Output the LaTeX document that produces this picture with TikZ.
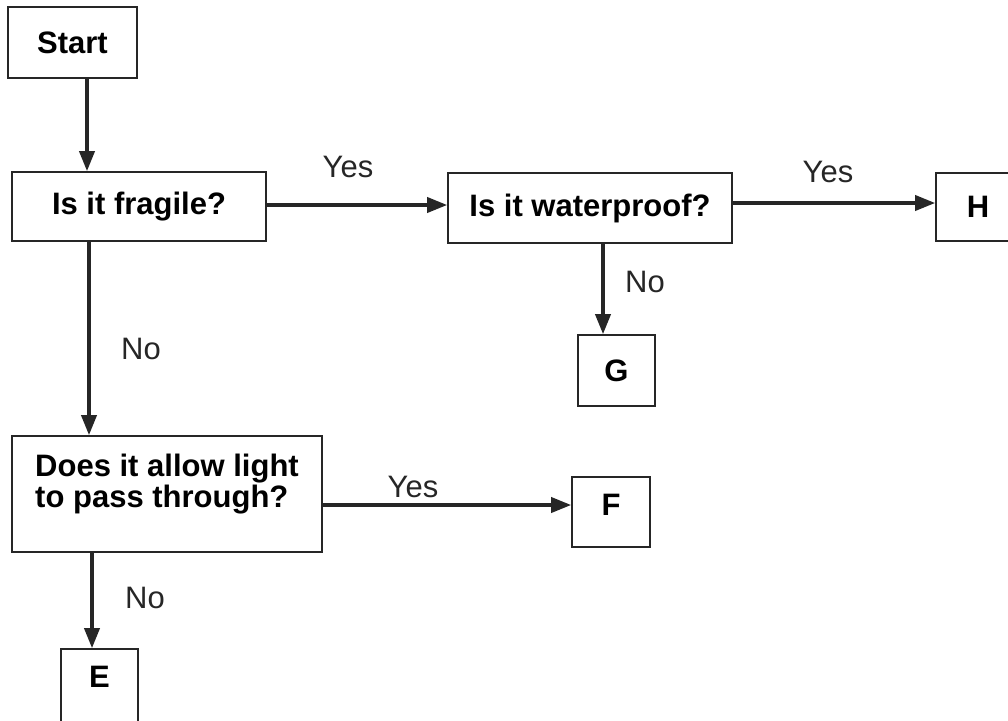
\documentclass[tikz,border=0pt]{standalone}
\usepackage{fontspec}
\setmainfont{Liberation Sans}
\usetikzlibrary{arrows.meta}
\begin{document}
\begin{tikzpicture}[x=1pt,y=-1pt,
  box/.style={draw=black!85, line width=1.6pt, inner sep=0pt, font=\fontsize{31}{31}\selectfont\bfseries},
  arr/.style={line width=3.6pt, draw=black!85, -{Triangle[length=20pt,width=15pt]}},
  lbl/.style={font=\fontsize{31}{31}\selectfont, text=black!85}]
\useasboundingbox (0,0) rectangle (1008,720);
\node[box, minimum width=129pt, minimum height=71pt] (start) at (72.5,42.5) {Start};
\node[box, minimum width=254pt, minimum height=69pt] (fragile) at (139,206.5) {Is it fragile?};
\node[box, minimum width=284pt, minimum height=70pt] (water) at (590,208) {Is it waterproof?};
\node[box, minimum width=84pt, minimum height=68pt] (H) at (978,207) {H};
\node[box, minimum width=77pt, minimum height=71pt] (G) at (616.5,370.5) {G};
\node[box, minimum width=310pt, minimum height=116pt, align=left] (light) at (167,494) {Does it allow light\\to pass through?\\[-4pt]\mbox{}};
\node[box, minimum width=78pt, minimum height=70pt, text depth=14pt] (F) at (611,512) {F};
\node[box, minimum width=77pt, minimum height=81pt, text depth=25pt] (E) at (99.5,689.5) {E};
\coordinate (x1) at (87,0);
\coordinate (x2) at (89,0);
\coordinate (x3) at (603,0);
\coordinate (x4) at (92,0);
\coordinate (y1) at (0,205);
\coordinate (y2) at (0,203);
\coordinate (y3) at (0,505);
\draw[arr] (x1 |- start.south) -- (x1 |- fragile.north);
\draw[arr] (fragile.east |- y1) -- (water.west |- y1);
\draw[arr] (water.east |- y2) -- (H.west |- y2);
\draw[arr] (x3 |- water.south) -- (x3 |- G.north);
\draw[arr] (x2 |- fragile.south) -- (x2 |- light.north);
\draw[arr] (light.east |- y3) -- (F.west |- y3);
\draw[arr] (x4 |- light.south) -- (x4 |- E.north);
\node[lbl] (l1) at (348,167) {Yes};
\node[lbl] (l2) at (828,172) {Yes};
\node[lbl] (l3) at (645,282) {No};
\node[lbl] (l4) at (141,349) {No};
\node[lbl] (l5) at (413,487) {Yes};
\node[lbl] (l6) at (145,598) {No};
\end{tikzpicture}
\end{document}
